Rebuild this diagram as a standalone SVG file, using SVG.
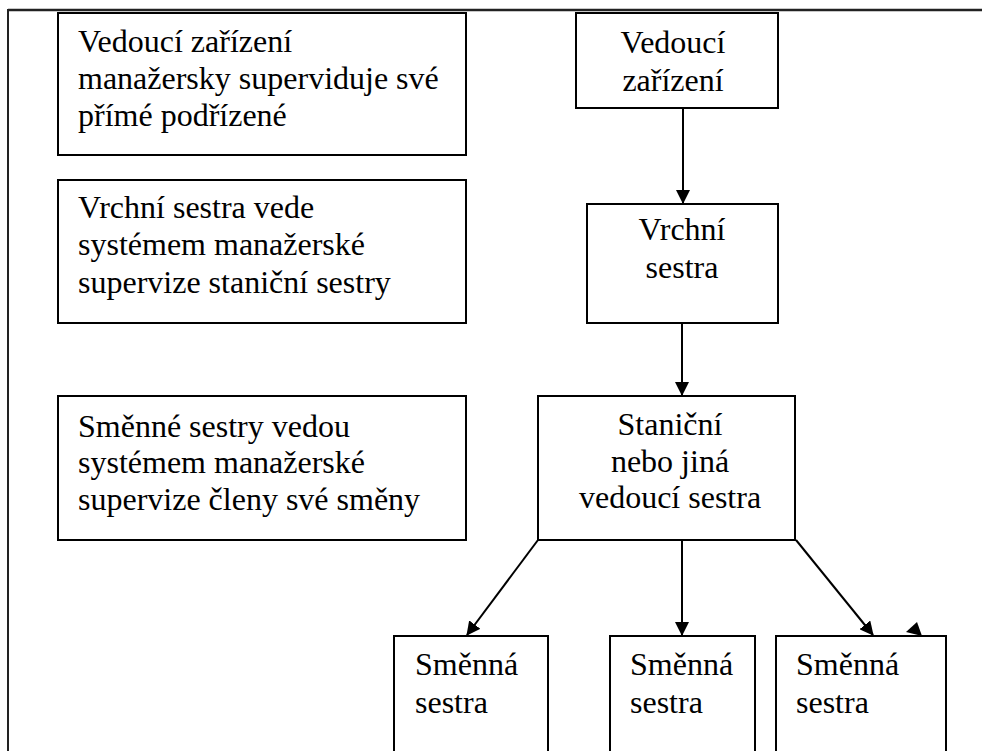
<svg xmlns="http://www.w3.org/2000/svg" width="982" height="751" viewBox="0 0 982 751">
<defs>
<style>
.box{fill:#fff;stroke:#000;stroke-width:2}
text{font-family:'Liberation Serif','Times New Roman',serif;font-size:32px;fill:#000}
.c{text-anchor:middle}
.edge{stroke:#000;stroke-width:2;fill:none;marker-end:url(#ah)}
</style>
<marker id="ah" markerUnits="userSpaceOnUse" markerWidth="14" markerHeight="14" viewBox="0 0 14 14" refX="13" refY="7" orient="auto">
<path d="M0,0 L14,7 L0,14 Z" fill="#000"/>
</marker>
</defs>
<rect width="982" height="751" fill="#fff"/>
<g id="frame">
<line x1="8" y1="10" x2="982" y2="10" stroke="#222" stroke-width="2.5"/>
<line x1="8" y1="9" x2="8" y2="751" stroke="#222" stroke-width="2"/>
</g>
<g id="note1">
<rect class="box" x="58" y="13" width="408" height="142"/>
<text x="78" y="52">Vedoucí zařízení</text>
<text x="78" y="89">manažersky superviduje své</text>
<text x="78" y="126">přímé podřízené</text>
</g>
<g id="note2">
<rect class="box" x="58" y="180" width="408" height="143"/>
<text x="78" y="218">Vrchní sestra vede</text>
<text x="78" y="255">systémem manažerské</text>
<text x="78" y="293">supervize staniční sestry</text>
</g>
<g id="note3">
<rect class="box" x="58" y="396" width="408" height="144"/>
<text x="78" y="437">Směnné sestry vedou</text>
<text x="78" y="473">systémem manažerské</text>
<text x="78" y="510">supervize členy své směny</text>
</g>
<g id="vedouci">
<rect class="box" x="576" y="13" width="202" height="95"/>
<text class="c" x="673" y="53">Vedoucí</text>
<text class="c" x="673" y="91">zařízení</text>
</g>
<g id="vrchni">
<rect class="box" x="587" y="204" width="191" height="119"/>
<text class="c" x="682" y="240">Vrchní</text>
<text class="c" x="682" y="278">sestra</text>
</g>
<g id="stanicni">
<rect class="box" x="538" y="396" width="257" height="144"/>
<text class="c" x="670" y="435">Staniční</text>
<text class="c" x="670" y="472">nebo jiná</text>
<text class="c" x="670" y="508">vedoucí sestra</text>
</g>
<g id="smenna1">
<rect class="box" x="394" y="636" width="154" height="130"/>
<text x="415" y="675">Směnná</text>
<text x="415" y="713">sestra</text>
</g>
<g id="smenna2">
<rect class="box" x="610" y="636" width="145" height="130"/>
<text x="630" y="675">Směnná</text>
<text x="630" y="713">sestra</text>
</g>
<g id="smenna3">
<rect class="box" x="776" y="636" width="170" height="130"/>
<text x="796" y="675">Směnná</text>
<text x="796" y="713">sestra</text>
</g>
<g id="connectors">
<line class="edge" x1="683" y1="108" x2="683" y2="203"/>
<line class="edge" x1="682" y1="323" x2="682" y2="395"/>
<line class="edge" x1="538" y1="540" x2="467" y2="635"/>
<line class="edge" x1="682" y1="540" x2="682" y2="635"/>
<line class="edge" x1="796" y1="540" x2="873" y2="635"/>
<polygon points="917,622 906,632 922,636" fill="#000"/>
</g>
</svg>
